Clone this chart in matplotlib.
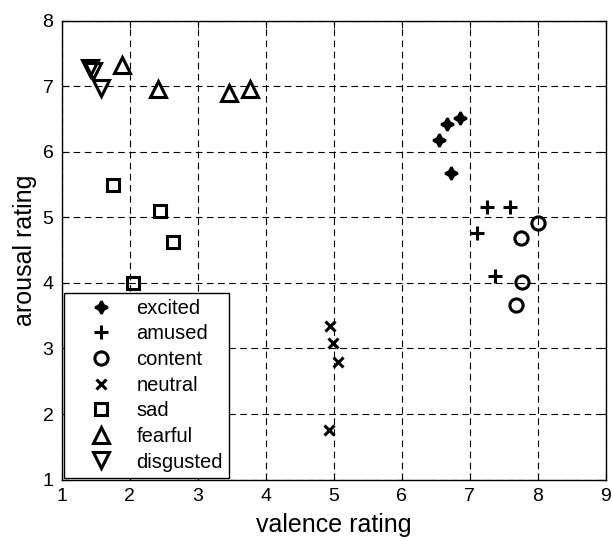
import matplotlib
matplotlib.use("Agg")
import matplotlib.pyplot as plt

plt.rcParams['font.family'] = ['Liberation Sans', 'DejaVu Sans']

# valence / arousal ratings per emotion category
excited_v = [6.85, 6.67, 6.55, 6.72]
excited_a = [6.51, 6.43, 6.18, 5.68]
amused_v = [7.25, 7.59, 7.11, 7.37]
amused_a = [5.16, 5.15, 4.76, 4.11]
content_v = [8.00, 7.75, 7.77, 7.68]
content_a = [4.91, 4.69, 4.01, 3.67]
neutral_v = [4.95, 4.99, 5.06, 4.93]
neutral_a = [3.34, 3.08, 2.79, 1.76]
sad_v = [1.75, 2.44, 2.64, 2.04]
sad_a = [5.50, 5.09, 4.63, 4.00]
fearful_v = [1.89, 2.42, 3.46, 3.77]
fearful_a = [7.32, 6.95, 6.89, 6.95]
disgusted_v = [1.42, 1.46, 1.57]
disgusted_a = [7.27, 7.23, 6.97]

x_ticks = [1, 2, 3, 4, 5, 6, 7, 8, 9]
y_ticks = [1, 2, 3, 4, 5, 6, 7, 8]

fig = plt.figure(figsize=(6.12, 5.41), dpi=100)
ax = fig.add_axes([0.101, 0.1135, 0.889, 0.8485])

ew = 2.2
ax.plot(excited_v, excited_a, linestyle='none', marker=(4, 1, 0), ms=9,
        color='black', mec='black', mew=1.8, label='excited')
ax.plot(amused_v, amused_a, linestyle='none', marker='+', ms=10,
        color='black', mew=ew, label='amused')
ax.plot(content_v, content_a, linestyle='none', marker='o', ms=9.5,
        mfc='none', mec='black', mew=ew, label='content')
ax.plot(neutral_v, neutral_a, linestyle='none', marker='x', ms=7.5,
        color='black', mew=ew, label='neutral')
ax.plot(sad_v, sad_a, linestyle='none', marker='s', ms=9,
        mfc='none', mec='black', mew=ew, label='sad')
ax.plot(fearful_v, fearful_a, linestyle='none', marker='^', ms=12,
        mfc='none', mec='black', mew=ew, label='fearful')
ax.plot(disgusted_v, disgusted_a, linestyle='none', marker='v', ms=12,
        mfc='none', mec='black', mew=ew, label='disgusted')

ax.set_xlim(1, 9)
ax.set_ylim(1, 8)
ax.set_xticks(x_ticks)
ax.set_yticks(y_ticks)
ax.tick_params(direction='in', length=5, width=0.8, top=True, right=True,
               labelsize=14, pad=6, colors='black')
ax.grid(True, color='black', linestyle=(0, (6, 4)), linewidth=0.8)
ax.set_axisbelow(True)
for s in ax.spines.values():
    s.set_linewidth(1.0)
    s.set_color('black')

ax.set_xlabel('valence rating', fontsize=18, labelpad=6)
ax.set_ylabel('arousal rating', fontsize=18, labelpad=4)

leg = ax.legend(loc='lower left', fontsize=14.5, frameon=True, fancybox=False,
                edgecolor='black', framealpha=1, borderaxespad=0.1,
                handlelength=3.1, handletextpad=0.2, labelspacing=0.33,
                borderpad=0.3, numpoints=1)
leg.get_frame().set_linewidth(1.0)

fig.savefig('out.png', dpi=100)
